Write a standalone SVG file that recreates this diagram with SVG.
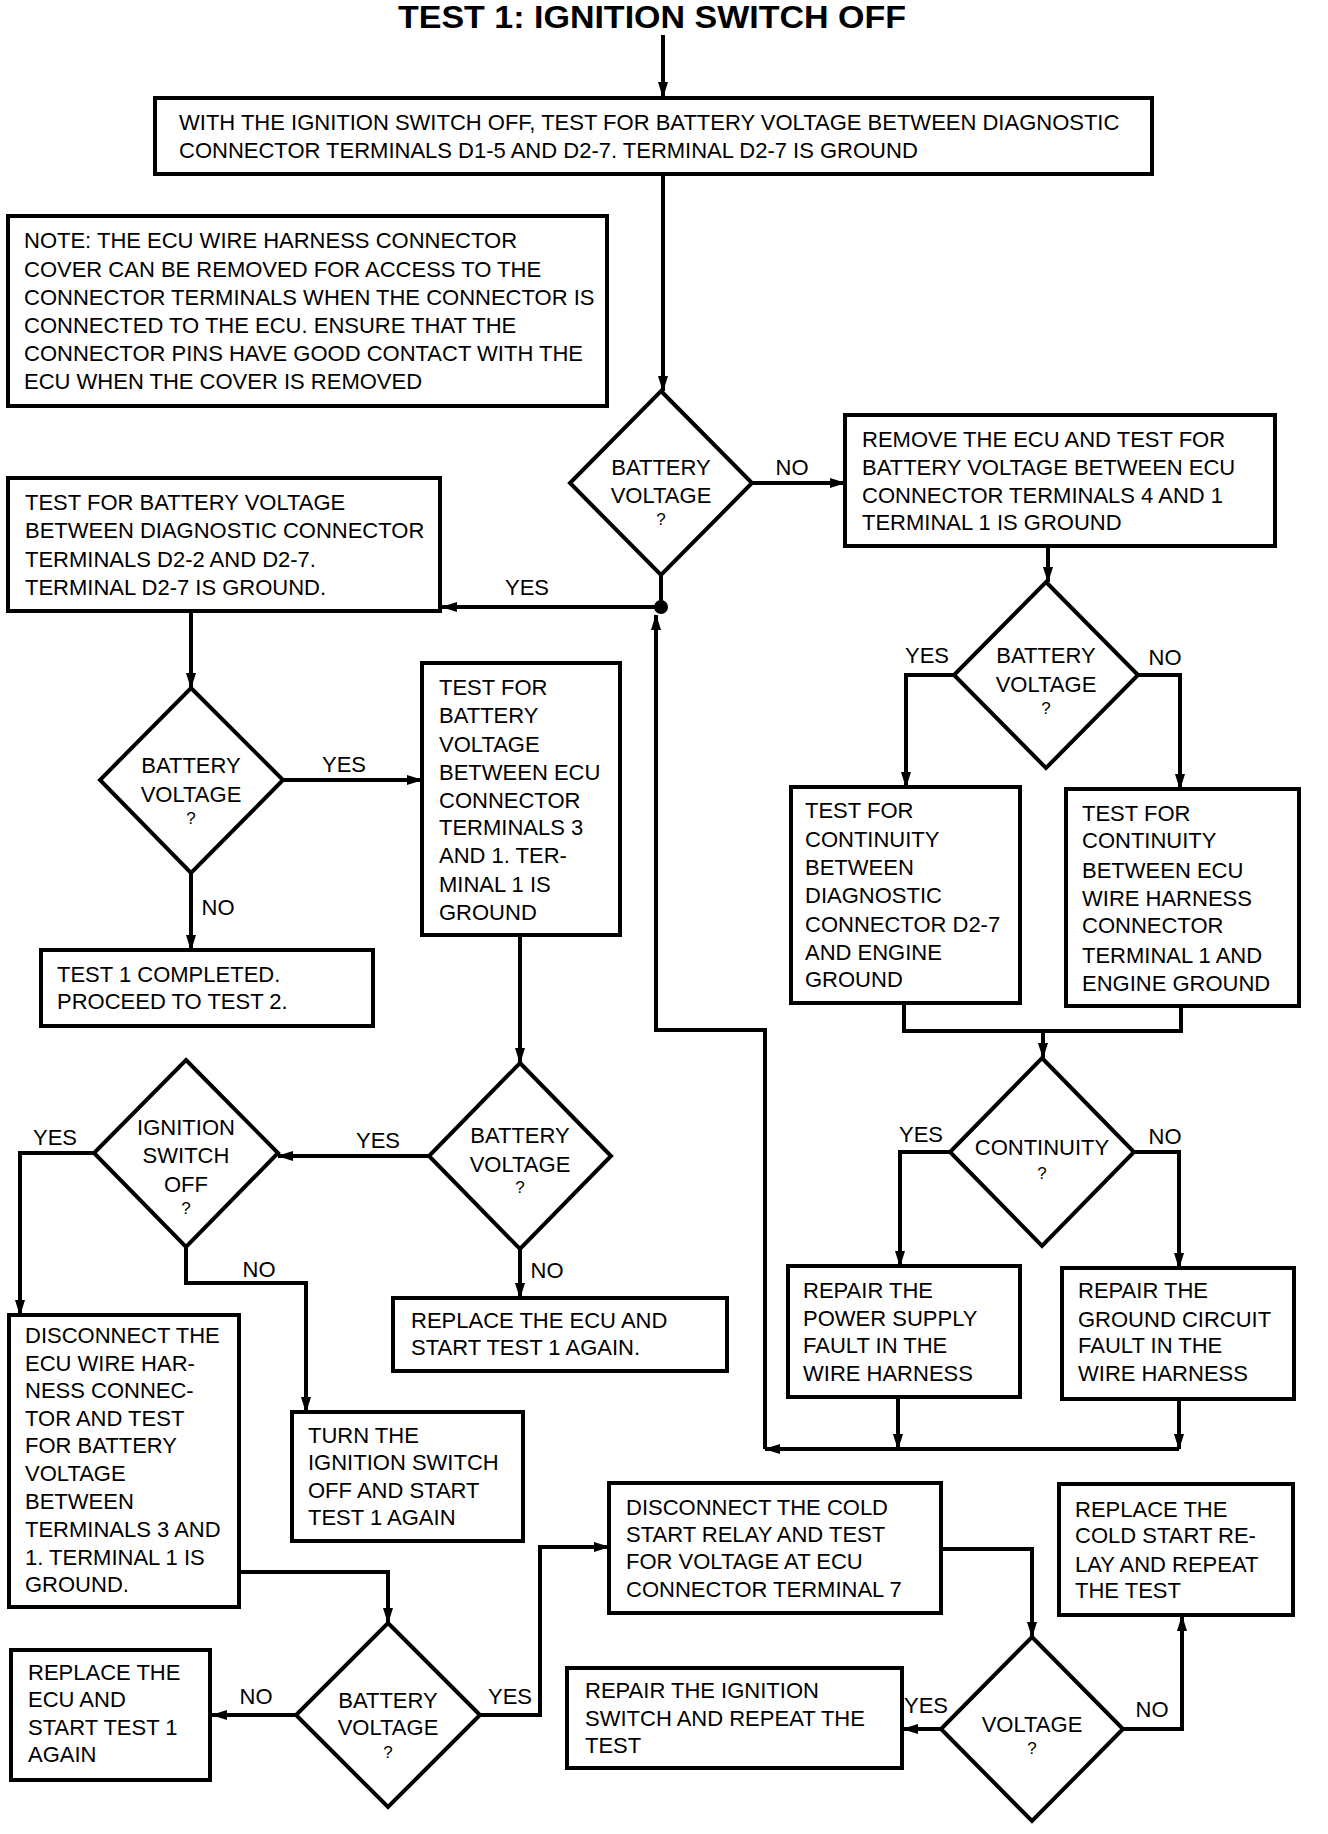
<svg xmlns="http://www.w3.org/2000/svg" width="1328" height="1834" viewBox="0 0 1328 1834">
<style>
.box{fill:#fff;stroke:#000;stroke-width:4}
.dia{fill:#fff;stroke:#000;stroke-width:4}
.wire{fill:none;stroke:#000;stroke-width:4}
text{font-family:"Liberation Sans",Arial,Helvetica,sans-serif;font-size:22px;fill:#000}
.c{text-anchor:middle}
.q{font-size:17px}
.title{font-weight:bold;font-size:31px}
</style>
<defs>
<marker id="ah" viewBox="0 0 16 10" refX="15" refY="5" markerWidth="16" markerHeight="10" markerUnits="userSpaceOnUse" orient="auto"><path d="M0,0 L16,5 L0,10 z" fill="#000"/></marker>
</defs>
<rect width="1328" height="1834" fill="#fff"/>
<text class="title c" x="652" y="28" textLength="508" lengthAdjust="spacingAndGlyphs">TEST 1: IGNITION SWITCH OFF</text>

<g id="connectors">
<path class="wire" d="M663,35 V97" marker-end="url(#ah)"/>
<path class="wire" d="M663,175 V391" marker-end="url(#ah)"/>
<path class="wire" d="M752,483 H845" marker-end="url(#ah)"/>
<path class="wire" d="M661,576 V607"/>
<path class="wire" d="M661,607 H442" marker-end="url(#ah)"/>
<circle cx="661" cy="607" r="7" fill="#000"/>
<path class="wire" d="M191,611 V688" marker-end="url(#ah)"/>
<path class="wire" d="M283,780 H422" marker-end="url(#ah)"/>
<path class="wire" d="M191,873 V950" marker-end="url(#ah)"/>
<path class="wire" d="M520,935 V1063" marker-end="url(#ah)"/>
<path class="wire" d="M429,1156 H278" marker-end="url(#ah)"/>
<path class="wire" d="M520,1249 V1298" marker-end="url(#ah)"/>
<path class="wire" d="M94,1153 H20 V1315" marker-end="url(#ah)"/>
<path class="wire" d="M186,1247 V1283 H306 V1412" marker-end="url(#ah)"/>
<path class="wire" d="M239,1572 H388 V1623" marker-end="url(#ah)"/>
<path class="wire" d="M296,1715 H212" marker-end="url(#ah)"/>
<path class="wire" d="M480,1715 H540 V1547 H609" marker-end="url(#ah)"/>
<path class="wire" d="M941,1549 H1032 V1637" marker-end="url(#ah)"/>
<path class="wire" d="M941,1729 H903" marker-end="url(#ah)"/>
<path class="wire" d="M1123,1729 H1182 V1616" marker-end="url(#ah)"/>
<path class="wire" d="M1048,547 V582" marker-end="url(#ah)"/>
<path class="wire" d="M954,675 H906 V787" marker-end="url(#ah)"/>
<path class="wire" d="M1138,675 H1180 V789" marker-end="url(#ah)"/>
<path class="wire" d="M904,1003 V1031 H1181 V1006"/>
<path class="wire" d="M1043,1031 V1058" marker-end="url(#ah)"/>
<path class="wire" d="M950,1152 H900 V1266" marker-end="url(#ah)"/>
<path class="wire" d="M1134,1152 H1179 V1268" marker-end="url(#ah)"/>
<path class="wire" d="M898,1397 V1449" marker-end="url(#ah)"/>
<path class="wire" d="M1179,1399 V1449" marker-end="url(#ah)"/>
<path class="wire" d="M1179,1449 H765" marker-end="url(#ah)"/>
<path class="wire" d="M765,1449 V1030 H656 V615" marker-end="url(#ah)"/>
</g>

<g id="box1"><rect class="box" x="155" y="98" width="997" height="76"/>
<text x="179" y="130">WITH THE IGNITION SWITCH OFF, TEST FOR BATTERY VOLTAGE BETWEEN DIAGNOSTIC</text>
<text x="179" y="158">CONNECTOR TERMINALS D1-5 AND D2-7. TERMINAL D2-7 IS GROUND</text></g>

<g id="note"><rect class="box" x="8" y="216" width="599" height="190"/>
<text x="24" y="248">NOTE: THE ECU WIRE HARNESS CONNECTOR</text>
<text x="24" y="277">COVER CAN BE REMOVED FOR ACCESS TO THE</text>
<text x="24" y="305">CONNECTOR TERMINALS WHEN THE CONNECTOR IS</text>
<text x="24" y="333">CONNECTED TO THE ECU. ENSURE THAT THE</text>
<text x="24" y="361">CONNECTOR PINS HAVE GOOD CONTACT WITH THE</text>
<text x="24" y="389">ECU WHEN THE COVER IS REMOVED</text></g>

<g id="d1"><polygon class="dia" points="661,391 752,483 661,575 570,483"/>
<text class="c" x="661" y="475">BATTERY</text><text class="c" x="661" y="503">VOLTAGE</text><text class="c q" x="661" y="525">?</text></g>

<g id="box2"><rect class="box" x="845" y="415" width="430" height="131"/>
<text x="862" y="447">REMOVE THE ECU AND TEST FOR</text>
<text x="862" y="475">BATTERY VOLTAGE BETWEEN ECU</text>
<text x="862" y="503">CONNECTOR TERMINALS 4 AND 1</text>
<text x="862" y="530">TERMINAL 1 IS GROUND</text></g>

<g id="box3"><rect class="box" x="8" y="478" width="432" height="133"/>
<text x="25" y="510">TEST FOR BATTERY VOLTAGE</text>
<text x="25" y="538">BETWEEN DIAGNOSTIC CONNECTOR</text>
<text x="25" y="567">TERMINALS D2-2 AND D2-7.</text>
<text x="25" y="595">TERMINAL D2-7 IS GROUND.</text></g>

<g id="d2"><polygon class="dia" points="191,688 283,780 191,873 100,780"/>
<text class="c" x="191" y="773">BATTERY</text><text class="c" x="191" y="802">VOLTAGE</text><text class="c q" x="191" y="824">?</text></g>

<g id="box4"><rect class="box" x="422" y="663" width="198" height="272"/>
<text x="439" y="695">TEST FOR</text>
<text x="439" y="723">BATTERY</text>
<text x="439" y="752">VOLTAGE</text>
<text x="439" y="780">BETWEEN ECU</text>
<text x="439" y="808">CONNECTOR</text>
<text x="439" y="835">TERMINALS 3</text>
<text x="439" y="863">AND 1. TER-</text>
<text x="439" y="892">MINAL 1 IS</text>
<text x="439" y="920">GROUND</text></g>

<g id="box5"><rect class="box" x="41" y="950" width="332" height="76"/>
<text x="57" y="982">TEST 1 COMPLETED.</text>
<text x="57" y="1009">PROCEED TO TEST 2.</text></g>

<g id="d7"><polygon class="dia" points="1046,582 1138,675 1046,768 954,675"/>
<text class="c" x="1046" y="663">BATTERY</text><text class="c" x="1046" y="692">VOLTAGE</text><text class="c q" x="1046" y="714">?</text></g>

<g id="box13"><rect class="box" x="791" y="787" width="229" height="216"/>
<text x="805" y="818">TEST FOR</text>
<text x="805" y="847">CONTINUITY</text>
<text x="805" y="875">BETWEEN</text>
<text x="805" y="903">DIAGNOSTIC</text>
<text x="805" y="932">CONNECTOR D2-7</text>
<text x="805" y="960">AND ENGINE</text>
<text x="805" y="987">GROUND</text></g>

<g id="box14"><rect class="box" x="1066" y="789" width="233" height="217"/>
<text x="1082" y="821">TEST FOR</text>
<text x="1082" y="848">CONTINUITY</text>
<text x="1082" y="878">BETWEEN ECU</text>
<text x="1082" y="906">WIRE HARNESS</text>
<text x="1082" y="933">CONNECTOR</text>
<text x="1082" y="963">TERMINAL 1 AND</text>
<text x="1082" y="991">ENGINE GROUND</text></g>

<g id="d8"><polygon class="dia" points="1042,1058 1134,1152 1042,1246 950,1152"/>
<text class="c" x="1042" y="1155">CONTINUITY</text><text class="c q" x="1042" y="1179">?</text></g>

<g id="d3"><polygon class="dia" points="520,1063 611,1156 520,1249 429,1156"/>
<text class="c" x="520" y="1143">BATTERY</text><text class="c" x="520" y="1172">VOLTAGE</text><text class="c q" x="520" y="1193">?</text></g>

<g id="d4"><polygon class="dia" points="186,1060 278,1153 186,1247 94,1153"/>
<text class="c" x="186" y="1135">IGNITION</text><text class="c" x="186" y="1163">SWITCH</text><text class="c" x="186" y="1192">OFF</text><text class="c q" x="186" y="1214">?</text></g>

<g id="box15"><rect class="box" x="788" y="1266" width="232" height="131"/>
<text x="803" y="1298">REPAIR THE</text>
<text x="803" y="1326">POWER SUPPLY</text>
<text x="803" y="1353">FAULT IN THE</text>
<text x="803" y="1381">WIRE HARNESS</text></g>

<g id="box16"><rect class="box" x="1062" y="1268" width="232" height="131"/>
<text x="1078" y="1298">REPAIR THE</text>
<text x="1078" y="1327">GROUND CIRCUIT</text>
<text x="1078" y="1353">FAULT IN THE</text>
<text x="1078" y="1381">WIRE HARNESS</text></g>

<g id="box8"><rect class="box" x="393" y="1298" width="334" height="73"/>
<text x="411" y="1328">REPLACE THE ECU AND</text>
<text x="411" y="1355">START TEST 1 AGAIN.</text></g>

<g id="box6"><rect class="box" x="9" y="1315" width="230" height="292"/>
<text x="25" y="1343">DISCONNECT THE</text>
<text x="25" y="1371">ECU WIRE HAR-</text>
<text x="25" y="1398">NESS CONNEC-</text>
<text x="25" y="1426">TOR AND TEST</text>
<text x="25" y="1453">FOR BATTERY</text>
<text x="25" y="1481">VOLTAGE</text>
<text x="25" y="1509">BETWEEN</text>
<text x="25" y="1537">TERMINALS 3 AND</text>
<text x="25" y="1565">1. TERMINAL 1 IS</text>
<text x="25" y="1592">GROUND.</text></g>

<g id="box7"><rect class="box" x="292" y="1412" width="231" height="129"/>
<text x="308" y="1443">TURN THE</text>
<text x="308" y="1470">IGNITION SWITCH</text>
<text x="308" y="1498">OFF AND START</text>
<text x="308" y="1525">TEST 1 AGAIN</text></g>

<g id="box10"><rect class="box" x="609" y="1483" width="332" height="130"/>
<text x="626" y="1515">DISCONNECT THE COLD</text>
<text x="626" y="1542">START RELAY AND TEST</text>
<text x="626" y="1569">FOR VOLTAGE AT ECU</text>
<text x="626" y="1597">CONNECTOR TERMINAL 7</text></g>

<g id="box12"><rect class="box" x="1059" y="1484" width="234" height="131"/>
<text x="1075" y="1517">REPLACE THE</text>
<text x="1075" y="1543">COLD START RE-</text>
<text x="1075" y="1572">LAY AND REPEAT</text>
<text x="1075" y="1598">THE TEST</text></g>

<g id="d5"><polygon class="dia" points="388,1623 480,1715 388,1807 296,1715"/>
<text class="c" x="388" y="1708">BATTERY</text><text class="c" x="388" y="1735">VOLTAGE</text><text class="c q" x="388" y="1758">?</text></g>

<g id="box9"><rect class="box" x="11" y="1650" width="199" height="130"/>
<text x="28" y="1680">REPLACE THE</text>
<text x="28" y="1707">ECU AND</text>
<text x="28" y="1735">START TEST 1</text>
<text x="28" y="1762">AGAIN</text></g>

<g id="box11"><rect class="box" x="567" y="1668" width="335" height="100"/>
<text x="585" y="1698">REPAIR THE IGNITION</text>
<text x="585" y="1726">SWITCH AND REPEAT THE</text>
<text x="585" y="1753">TEST</text></g>

<g id="d6"><polygon class="dia" points="1032,1637 1123,1729 1032,1821 941,1729"/>
<text class="c" x="1032" y="1732">VOLTAGE</text><text class="c q" x="1032" y="1754">?</text></g>

<g id="labels">
<text class="c" x="792" y="475">NO</text>
<text class="c" x="527" y="595">YES</text>
<text class="c" x="344" y="772">YES</text>
<text class="c" x="218" y="915">NO</text>
<text class="c" x="378" y="1148">YES</text>
<text class="c" x="55" y="1145">YES</text>
<text class="c" x="259" y="1277">NO</text>
<text class="c" x="547" y="1278">NO</text>
<text class="c" x="256" y="1704">NO</text>
<text class="c" x="510" y="1704">YES</text>
<text class="c" x="926" y="1713">YES</text>
<text class="c" x="1152" y="1717">NO</text>
<text class="c" x="927" y="663">YES</text>
<text class="c" x="1165" y="665">NO</text>
<text class="c" x="921" y="1142">YES</text>
<text class="c" x="1165" y="1144">NO</text>
</g>
</svg>
